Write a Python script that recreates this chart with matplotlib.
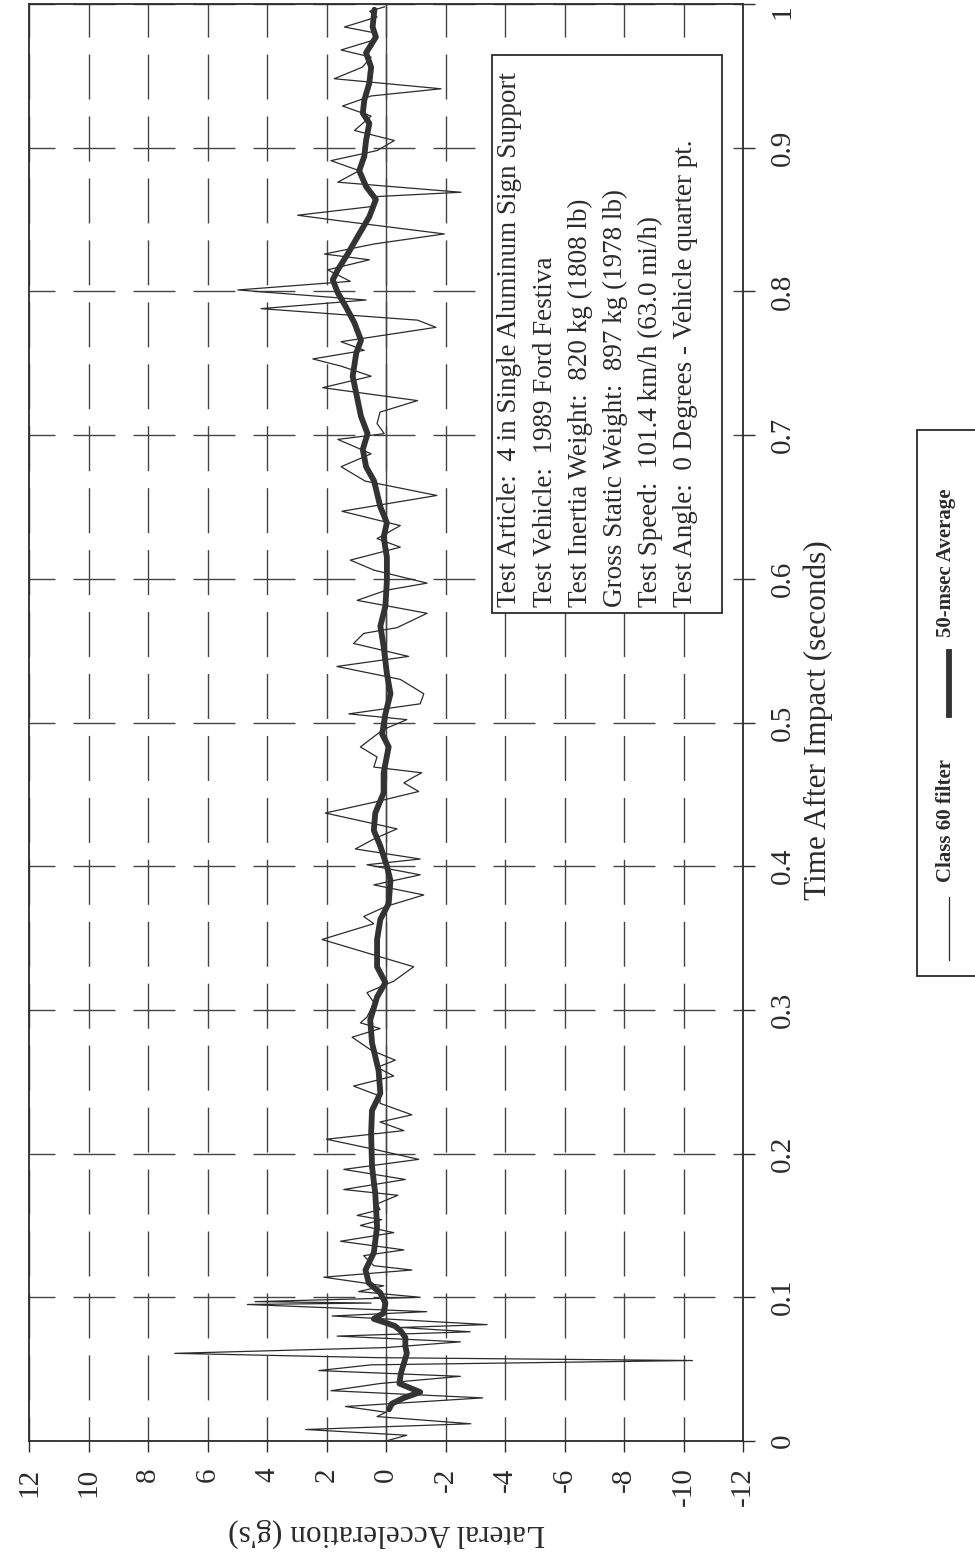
import matplotlib
matplotlib.use("Agg")
import matplotlib.pyplot as plt
from matplotlib.patches import Rectangle
from matplotlib.lines import Line2D

plt.rcParams['font.family'] = ['Liberation Serif', 'DejaVu Serif']
plt.rcParams['lines.scale_dashes'] = False
plt.rcParams['axes.unicode_minus'] = False

# Class 60 filter trace (time s, lateral accel g's)
t_filter = [0.000, 0.004, 0.008, 0.012, 0.017, 0.020, 0.024, 0.030, 0.035, 0.040,
            0.045, 0.049, 0.053, 0.056, 0.058, 0.061, 0.065, 0.069, 0.073, 0.076,
            0.079, 0.081, 0.087, 0.090, 0.095, 0.096, 0.097, 0.100, 0.104, 0.108,
            0.114, 0.119, 0.122, 0.129, 0.133, 0.139, 0.145, 0.150, 0.154, 0.157,
            0.161, 0.165, 0.171, 0.175, 0.182, 0.189, 0.196, 0.203, 0.210, 0.216,
            0.222, 0.227, 0.235, 0.240, 0.247, 0.254, 0.260, 0.265, 0.272, 0.281,
            0.287, 0.291, 0.295, 0.305, 0.312, 0.320, 0.330, 0.349, 0.360, 0.365,
            0.372, 0.380, 0.387, 0.394, 0.401, 0.405, 0.412, 0.419, 0.426, 0.437,
            0.445, 0.452, 0.458, 0.462, 0.465, 0.469, 0.476, 0.483, 0.495, 0.502,
            0.506, 0.513, 0.520, 0.530, 0.539, 0.546, 0.555, 0.562, 0.566, 0.576,
            0.585, 0.592, 0.597, 0.606, 0.613, 0.622, 0.628, 0.637, 0.647, 0.658,
            0.668, 0.678, 0.687, 0.697, 0.701, 0.708, 0.716, 0.724, 0.733, 0.741,
            0.748, 0.753, 0.759, 0.765, 0.775, 0.780, 0.788, 0.794, 0.801, 0.807,
            0.815, 0.822, 0.826, 0.833, 0.840, 0.849, 0.853, 0.859, 0.866, 0.869,
            0.876, 0.884, 0.891, 0.898, 0.905, 0.912, 0.922, 0.929, 0.936, 0.941,
            0.948, 0.956, 0.963, 0.968, 0.975, 0.980, 0.984, 0.991, 0.995, 0.998]
a_filter = [0.0, -0.7, 2.7, -2.85, 0.3, 0.0, 1.36, -3.25, 1.85, 0.2,
            -2.5, 2.26, 0.5, -10.3, 0.3, 7.1, 0.0, -2.5, 1.64, -2.83,
            -0.5, -3.4, 1.81, -1.37, 4.66, 0.5, 4.4, -1.15, 0.92, 0.08,
            2.09, -0.87, 0.41, 0.75, -0.6, 1.53, -0.26, 0.86, 0.15, 0.97,
            0.2, 0.3, -0.4, 1.42, -0.65, 1.42, -1.1, 0.4, 2.0, -0.6,
            0.2, -0.87, 0.2, 0.2, 1.09, -0.26, 0.3, -0.31, 0.5, 1.14,
            0.2, 0.86, 0.64, 0.4, 0.64, -0.26, -0.93, 2.15, 0.41, 0.75,
            0.0, -1.27, 0.41, -1.15, 0.64, -1.15, 1.03, 0.4, -0.37, 2.04,
            0.3, -1.1, -0.6, -0.93, -1.2, 0.41, 0.3, 0.86, 0.1, -0.7,
            1.25, -1.15, -1.27, -0.48, 1.65, -0.76, 1.09, 0.75, -0.37, -1.38,
            0.97, 0.0, -1.38, 0.4, 1.2, -0.48, 0.3, -0.48, 1.48, -1.71,
            0.7, 1.51, 0.5, 1.62, 0.06, 0.3, 0.2, -1.06, 2.13, 0.5,
            1.51, 2.46, 0.73, 1.51, -1.68, -1.06, 4.2, 0.67, 4.98, 1.2,
            1.96, 0.56, 2.07, 0.4, -1.96, 1.51, 2.97, 0.5, 0.3, -2.52,
            1.62, 0.9, 1.85, 0.3, -0.28, 1.06, 0.5, 1.46, 0.5, -1.85,
            1.74, 0.8, 0.5, 1.51, 0.4, 0.4, 1.4, 0.3, 0.55, 0.05]

# 50-msec average
t_avg = [0.022, 0.026, 0.030, 0.034, 0.037, 0.040, 0.047, 0.054, 0.061, 0.066,
         0.072, 0.077, 0.080, 0.082, 0.085, 0.089, 0.096, 0.103, 0.110, 0.119,
         0.131, 0.149, 0.172, 0.191, 0.214, 0.230, 0.242, 0.258, 0.277, 0.293,
         0.309, 0.319, 0.330, 0.349, 0.363, 0.374, 0.390, 0.400, 0.414, 0.425,
         0.437, 0.451, 0.465, 0.483, 0.492, 0.506, 0.520, 0.534, 0.553, 0.567,
         0.581, 0.599, 0.615, 0.629, 0.639, 0.650, 0.668, 0.678, 0.690, 0.701,
         0.713, 0.724, 0.741, 0.757, 0.766, 0.778, 0.789, 0.799, 0.808, 0.815,
         0.826, 0.840, 0.852, 0.864, 0.873, 0.884, 0.894, 0.905, 0.917, 0.924,
         0.933, 0.945, 0.956, 0.966, 0.977, 0.984, 0.996]
a_avg = [-0.1, -0.2, -0.6, -1.15, -0.8, -0.45, -0.5, -0.6, -0.7, -0.65,
         -0.65, -0.48, -0.3, -0.03, 0.41, 0.08, 0.02, 0.19, 0.58, 0.69,
         0.41, 0.3, 0.36, 0.47, 0.5, 0.47, 0.19, 0.25, 0.47, 0.53,
         0.3, 0.02, 0.3, 0.3, 0.19, -0.09, -0.15, -0.03, 0.19, 0.41,
         0.36, 0.08, 0.08, -0.09, 0.13, 0.02, -0.15, -0.03, 0.08, 0.19,
         0.02, -0.03, -0.03, 0.08, -0.03, 0.19, 0.4, 0.67, 0.78, 0.62,
         0.84, 0.95, 1.12, 1.0, 0.84, 1.06, 1.34, 1.62, 1.79, 1.62,
         1.29, 0.9, 0.56, 0.34, 0.67, 0.9, 0.73, 0.67, 0.56, 0.78,
         0.73, 0.56, 0.5, 0.67, 0.34, 0.45, 0.39]

accel_ticks = [12, 10, 8, 6, 4, 2, 0, -2, -4, -6, -8, -10, -12]
time_ticks = [0, 0.1, 0.2, 0.3, 0.4, 0.5, 0.6, 0.7, 0.8, 0.9, 1]
time_labels = ['0', '0.1', '0.2', '0.3', '0.4', '0.5', '0.6', '0.7', '0.8', '0.9', '1']

info_lines = ["Test Article:  4 in Single Aluminum Sign Support",
              "Test Vehicle:  1989 Ford Festiva",
              "Test Inertia Weight:  820 kg (1808 lb)",
              "Gross Static Weight:  897 kg (1978 lb)",
              "Test Speed:  101.4 km/h (63.0 mi/h)",
              "Test Angle:  0 Degrees - Vehicle quarter pt."]

W, H = 975, 1557
ink = '#2b2b2b'

def fx(px):
    return px / W

def fy(py):
    return 1 - py / H

fig = plt.figure(figsize=(W / 100, H / 100), dpi=100)
ax = fig.add_axes([fx(29), fy(1441), (743 - 29) / W, (1441 - 4) / H])

ax.set_xlim(12, -12)
ax.set_ylim(0, 1)

ax.plot(a_filter, t_filter, color=ink, lw=0.9, zorder=3)
ax.plot(a_avg, t_avg, color='#333333', lw=4.2, solid_capstyle='round', zorder=4)

ax.set_axisbelow(True)
ax.grid(axis='x', color='#444444', lw=1.0, linestyle=(15, (32.4, 12.2)))
ax.grid(axis='y', color='#444444', lw=1.0, linestyle=(11.5, (30.2, 13.0)))
ax.axvline(0, color='#444444', lw=1.0, zorder=1)

ax.set_xticks(accel_ticks)
ax.set_xticklabels([str(v) for v in accel_ticks])
ax.set_yticks(time_ticks)
ax.set_yticklabels(time_labels)
ax.tick_params(axis='x', bottom=True, top=False, direction='out', length=8,
               width=1, pad=11, labelrotation=90, labelsize=21, colors=ink)
ax.tick_params(axis='y', left=False, right=True, labelleft=False, labelright=True,
               direction='out', length=8.5, width=1, pad=10.5, labelrotation=90,
               labelsize=21, colors=ink)
ylbls = ax.get_yticklabels()
for lbl in ylbls:
    lbl.set_va('center')
ylbls[-1].set_va('top')
for s in ax.spines.values():
    s.set_linewidth(1.3)
    s.set_color(ink)

# axis titles (page is rotated)
fig.text(fx(387), fy(1533), "Lateral Acceleration (g's)", rotation=180,
         ha='center', va='center', fontsize=22.5, color=ink)
fig.text(fx(818), fy(720), "Time After Impact (seconds)", rotation=90,
         ha='center', va='center', fontsize=22.5, color=ink)

# test info box
box = Rectangle((fx(492), fy(613)), fx(722) - fx(492), fy(55) - fy(613),
                transform=fig.transFigure, facecolor='white', edgecolor=ink,
                lw=1.3, zorder=5)
fig.add_artist(box)
for i, line in enumerate(info_lines):
    fig.text(fx(510 + 35 * i), fy(607), line, rotation=90, rotation_mode='anchor',
             ha='left', va='center', fontsize=19.5, color=ink, zorder=6)

# legend box
leg = Rectangle((fx(917), fy(976)), fx(1010) - fx(917), fy(430) - fy(976),
                transform=fig.transFigure, facecolor='white', edgecolor=ink,
                lw=1.3, zorder=5)
fig.add_artist(leg)
fig.add_artist(Line2D([fx(949), fx(949)], [fy(960), fy(897)], transform=fig.transFigure,
                      color=ink, lw=0.9, zorder=6))
fig.text(fx(946), fy(882), "Class 60 filter", rotation=90, rotation_mode='anchor',
         ha='left', va='center', fontsize=15, fontweight='bold', color=ink, zorder=6)
fig.add_artist(Line2D([fx(949), fx(949)], [fy(715), fy(652)], transform=fig.transFigure,
                      color='#333333', lw=4.2, zorder=6))
fig.text(fx(946), fy(637), "50-msec Average", rotation=90, rotation_mode='anchor',
         ha='left', va='center', fontsize=15, fontweight='bold', color=ink, zorder=6)

fig.savefig("out.png", dpi=100)
